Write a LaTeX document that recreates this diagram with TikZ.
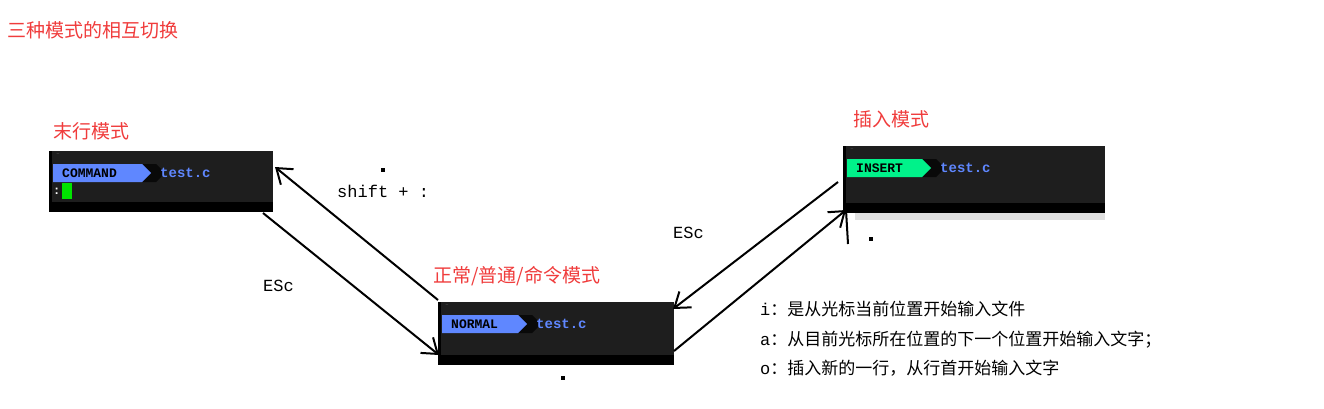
\documentclass[tikz,border=0pt]{standalone}
\usepackage{fontspec}
\setmonofont{Liberation Mono}
\newfontfamily\cjk{Noto Sans CJK SC}
\usetikzlibrary{arrows.meta}
\definecolor{term}{HTML}{1E1E1E}
\definecolor{pillblue}{HTML}{5F87FF}
\definecolor{pillgreen}{HTML}{00F28A}
\definecolor{fname}{HTML}{5F87FF}
\definecolor{redtxt}{HTML}{F03C3C}
\tikzset{
  redlbl/.style={anchor=west,text=redtxt,font=\cjk\fontsize{19}{19}\selectfont,inner sep=0},
  blk/.style={anchor=west,font=\ttfamily\fontsize{17}{17}\selectfont,inner sep=0},
  rtxt/.style={anchor=west,font=\cjk\fontsize{17}{17}\selectfont,inner sep=0},
  pilltxt/.style={anchor=west,font=\ttfamily\bfseries\fontsize{13}{13}\selectfont,inner sep=0},
  fn/.style={anchor=west,text=fname,font=\ttfamily\bfseries\fontsize{14}{14}\selectfont,inner sep=0},
  arr/.style={-{Straight Barb[length=14pt,width=20pt,line width=2pt]},line width=2pt},
}
\newcommand{\termbox}[8]{% name,x1,y1,x2,y2,pillx2,label,pillcolor
  \fill[black] (#2,#3) rectangle (#4,#5);
  \fill[term] (#2+3,#3) rectangle (#4,#5-10);
  \node[coordinate] (#1) at ({(#2+#4)/2},{(#3+#5)/2}) {};
  \node[inner sep=0,font=\tiny,text=gray] at (#2+9,#3+4) {\textasciitilde};
  \fill[black!70!term] (#6,#3+13) -- (#6+14,#3+13) -- (#6+23,#3+22) -- (#6+14,#3+31) -- (#6,#3+31) -- cycle;
  \fill[#8] (#2+4,#3+13) -- (#6,#3+13) -- (#6+9,#3+22) -- (#6,#3+31) -- (#2+4,#3+31) -- cycle;
  \node[pilltxt] at (#2+13,#3+22) {#7};
  \node[fn] at (#6+18+0,#3+22) {test.c};
}
\begin{document}
\begin{tikzpicture}[x=1pt,y=-1pt]
\useasboundingbox[fill=white] (0,0) rectangle (1324,409);
\node[redlbl] (title) at (7,30) {三种模式的相互切换};
\node[redlbl] (lmode) at (53,131) {末行模式};
\node[redlbl] (imode) at (853,119) {插入模式};
\node[redlbl] (nmode) at (433,276) {正常/普通/命令模式};
% boxes
\fill[black!12] (855,210) rectangle (1105,220);
\termbox{cmd}{49}{151}{273}{212}{142}{COMMAND}{pillblue}
\termbox{ins}{843}{146}{1105}{213}{922}{INSERT}{pillgreen}
\termbox{nor}{438}{302}{674}{365}{518}{NORMAL}{pillblue}
\node[inner sep=0,font=\ttfamily\bfseries\fontsize{12}{12}\selectfont,text=white,anchor=west] at (53,191) {:};
\fill[green!90!black] (62,183) rectangle (72,199);
% anchor coordinates
\coordinate (cmdR) at (275,167);
\coordinate (cmdB) at (263,213);
\coordinate (norTL) at (438,300);
\coordinate (norL) at (439,355);
\coordinate (norTR) at (673,309);
\coordinate (norR) at (674,351);
\coordinate (insL) at (838,182);
\coordinate (insB) at (846,210);
\draw[arr] (norTL) -- (cmdR);
\draw[arr] (cmdB) -- (norL);
\draw[arr] (insL) -- (norTR);
\draw[arr] (norR) -- (insB);
\coordinate (insD) at (848,244);
\draw[line width=2pt] (insD) -- (insB);
% labels
\node[blk] (shift) at (337,191) {shift + :};
\node[blk] (esc1) at (263,286) {ESc};
\node[blk] (esc2) at (673,233) {ESc};
\fill[black] (381,168) rectangle (385,172);
\fill[black] (869,237) rectangle (873,241);
\fill[black] (561,376) rectangle (565,380);
\node[rtxt] (t1) at (760,309) {\ttfamily i\cjk：是从光标当前位置开始输入文件};
\node[rtxt] (t2) at (760,340) {\ttfamily a\cjk：从目前光标所在位置的下一个位置开始输入文字；};
\node[rtxt] (t3) at (760,368) {\ttfamily o\cjk：插入新的一行，从行首开始输入文字};
\end{tikzpicture}
\end{document}
